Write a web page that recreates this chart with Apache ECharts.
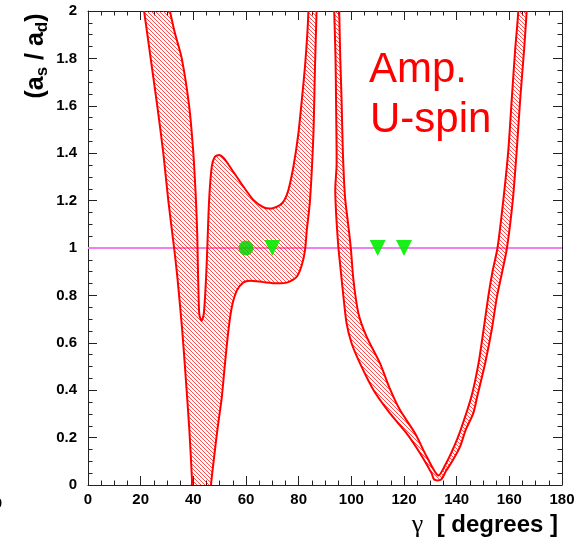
<!DOCTYPE html>
<html><head><meta charset="utf-8">
<script src="https://cdn.jsdelivr.net/npm/echarts@6/dist/echarts.min.js"></script>
<style>html,body{margin:0;padding:0;background:#fff}#c{width:581px;height:545px}</style>
</head><body><div id="c"></div>
<script>
// ---- data (gamma [deg], a_s/a_d) ----
const xRange = [0, 180];
const yRange = [0, 2];
const refLine = [[0, 1], [180, 1]];
const circlePts = [[60, 1]];
const trianglePts = [[70, 1], [110, 1], [120, 1]];

// left region (bands A + B merged)
const aOuterLeft = [[20.7,2.05],[21.3,2.0],[23.8,1.8],[26.3,1.6],[28.6,1.4],[30.5,1.2],[32.7,1.0],[34.0,0.87],[35.8,0.65],[37.2,0.44],[38.5,0.23],[39.5,0.02],[39.7,-0.05]];
const bOuterRight = [[46.5,-0.05],[46.7,0],[47.6,0.09],[49.1,0.23],[50.8,0.37],[52.0,0.51],[53.3,0.65],[54.6,0.75],[56.5,0.82],[59.0,0.855],[61.5,0.862],[66.6,0.856],[71.7,0.851],[75.5,0.854],[79.3,0.879],[81.2,0.928],[82.4,0.99],[83.1,1.076],[84.3,1.2],[85.6,1.48],[86.2,1.765],[86.8,2.0],[86.9,2.05]];
const bInner = [[83.8,2.05],[83.7,2.0],[83.3,1.906],[82.4,1.765],[81.2,1.624],[79.9,1.484],[78.0,1.343],[76.1,1.245],[74.5,1.2],[72.9,1.181],[69.8,1.167],[66.6,1.172],[62.8,1.203],[59.0,1.259],[53.9,1.343],[51.5,1.38],[49.9,1.392],[48.2,1.385],[47.0,1.343],[46.0,1.203],[45.3,1.0],[44.8,0.865],[44.0,0.725],[43.2,0.693]];
const aInner = [[42.3,0.717],[42.0,0.795],[41.7,0.935],[41.5,1.05],[41.0,1.2],[40.0,1.4],[38.4,1.6],[35.6,1.8],[33.0,1.907],[31.1,2.0],[30.2,2.05]];

// right region (bands C + D joined at the V)
const cOuter = [[93.4,2.05],[93.5,2.0],[94.0,1.8],[94.2,1.62],[94.4,1.35],[93.9,1.25],[94.2,1.15],[95.1,1.0],[95.7,0.935],[97.0,0.795],[98.2,0.682],[100.1,0.598],[103.3,0.513],[108.4,0.401],[114.7,0.302],[121.0,0.218],[126.1,0.134],[130.5,0.049],[131.5,0.022]];
const dOuter = [[134.0,0.022],[136.0,0.06],[138.3,0.1],[141.3,0.162],[143.4,0.232],[146.3,0.302],[147.8,0.373],[150.8,0.513],[153.3,0.654],[155.3,0.795],[157.3,0.9],[159.1,1.0],[161.3,1.2],[162.8,1.41],[164.1,1.624],[165.6,1.835],[166.6,2.0],[166.9,2.05]];
const dInner = [[163.1,2.05],[163.4,2.0],[162.2,1.835],[160.9,1.624],[159.6,1.41],[157.7,1.2],[155.5,1.0],[153.6,0.9],[152.0,0.795],[150.2,0.654],[148.3,0.513],[145.6,0.373],[141.5,0.232],[139.0,0.162],[136.0,0.092],[133.0,0.04]];
const cInner = [[128.6,0.12],[124.2,0.218],[118.5,0.316],[114.5,0.41],[110.9,0.513],[105.8,0.626],[102.7,0.724],[100.8,0.865],[99.8,1.0],[98.8,1.1],[97.6,1.216],[96.8,1.4],[96.3,1.624],[95.8,1.8],[95.4,2.0],[95.3,2.05]];

const regionLeft = aOuterLeft.concat(bOuterRight, bInner, aInner);
const regionRight = cOuter.concat(dOuter, dInner, cInner);

// ---- hatch pattern ----
const pc = document.createElement('canvas'); pc.width = 4; pc.height = 4;
const g = pc.getContext('2d');
g.strokeStyle = 'rgba(255,0,0,0.7)'; g.lineWidth = 1;
g.beginPath();
g.moveTo(-1,-1); g.lineTo(5,5);
g.moveTo(-1,3); g.lineTo(1,5);
g.moveTo(3,-1); g.lineTo(5,1);
g.stroke();
const hatch = { image: pc, repeat: 'repeat' };

function polyRender(params, api) {
  if (params.dataIndex !== 0) return null;
  const src = params.seriesIndex === 2 ? regionLeft : regionRight;
  const pts = src.map(p => api.coord(p));
  return { type: 'polygon', shape: { points: pts, smooth: 0.25 },
    style: { fill: hatch, stroke: '#ff0000', lineWidth: 2, lineJoin: 'round' } };
}

const labelFont = { fontFamily: 'Liberation Sans', fontWeight: 'bold', fontSize: 15, color: '#000' };
const axColor = '#222';
function xAx(pos, showLabel) {
  return { type: 'value', position: pos, min: xRange[0], max: xRange[1], interval: 20,
    axisLine: { onZero: false, lineStyle: { color: axColor, width: 1 } },
    axisTick: { inside: true, length: 9, lineStyle: { color: axColor } },
    minorTick: { show: true, splitNumber: 4, length: 4.5, lineStyle: { color: axColor } },
    splitLine: { show: false },
    axisLabel: Object.assign({ show: showLabel, margin: 7 }, labelFont) };
}
function yAx(pos, showLabel) {
  return { type: 'value', position: pos, min: yRange[0], max: yRange[1], interval: 0.2,
    axisLine: { onZero: false, lineStyle: { color: axColor, width: 1 } },
    axisTick: { inside: true, length: 9, lineStyle: { color: axColor } },
    minorTick: { show: true, splitNumber: 4, length: 4.5, lineStyle: { color: axColor } },
    splitLine: { show: false },
    axisLabel: Object.assign({ show: showLabel, margin: 11 }, labelFont) };
}

const chart = echarts.init(document.getElementById('c'), null, { renderer: 'canvas' });
chart.setOption({
  animation: false,
  backgroundColor: '#fff',
  grid: { left: 88, right: 19, top: 11, bottom: 60, containLabel: false },
  xAxis: [xAx('bottom', true), xAx('top', false)],
  yAxis: [yAx('left', true), yAx('right', false)],
  series: [
    { type: 'line', data: refLine, symbol: 'none', silent: true, z: 1,
      lineStyle: { color: '#f080f0', width: 2 } },
    { type: 'scatter', data: circlePts, symbol: 'circle', symbolSize: 15, z: 4,
      itemStyle: { color: '#00d400', opacity: 0.85 } },
    { type: 'custom', data: regionLeft, renderItem: polyRender, clip: true, z: 3,
      encode: { x: 0, y: 1 } },
    { type: 'custom', data: regionRight, renderItem: polyRender, clip: true, z: 3,
      encode: { x: 0, y: 1 } },
    { type: 'scatter', data: trianglePts, symbol: 'triangle', symbolRotate: 180, symbolSize: 16, z: 4,
      itemStyle: { color: '#00ee00', opacity: 0.9 } }
  ],
  graphic: [
    { type: 'text', x: 37, y: 56, rotation: Math.PI / 2, z: 10,
      style: { text: '{m|(a}{s|s}{m| / a}{s|d}{m|)}', align: 'center', verticalAlign: 'middle',
        rich: {
          m: { fontSize: 25, fontWeight: 'bold', fontFamily: 'Liberation Sans', fill: '#000', verticalAlign: 'top', lineHeight: 27 },
          s: { fontSize: 17, fontWeight: 'bold', fontFamily: 'Liberation Sans', fill: '#000', verticalAlign: 'bottom', lineHeight: 17, padding: [12, 0, 0, 0] }
        } } },
    { type: 'text', x: 558, y: 525, z: 10,
      style: { text: '{g|γ}{t|  [ degrees ]}', align: 'right', verticalAlign: 'middle',
        rich: {
          g: { fontSize: 26, fontFamily: 'Liberation Serif', fill: '#000' },
          t: { fontSize: 24, fontWeight: 'bold', fontFamily: 'Liberation Sans', fill: '#000' }
        } } },
    { type: 'text', x: 369, y: 70, z: 10,
      style: { text: 'Amp.', font: '42px "Liberation Sans"', fill: '#ff0000', align: 'left', verticalAlign: 'middle' } },
    { type: 'text', x: 370, y: 120, z: 10,
      style: { text: 'U-spin', font: '42px "Liberation Sans"', fill: '#ff0000', align: 'left', verticalAlign: 'middle' } },
    { type: 'text', x: -2, y: 504, z: 10,
      style: { text: '0', font: 'bold 15px "Liberation Sans"', fill: '#000', align: 'center', verticalAlign: 'middle' } }
  ]
});
</script>
</body></html>
